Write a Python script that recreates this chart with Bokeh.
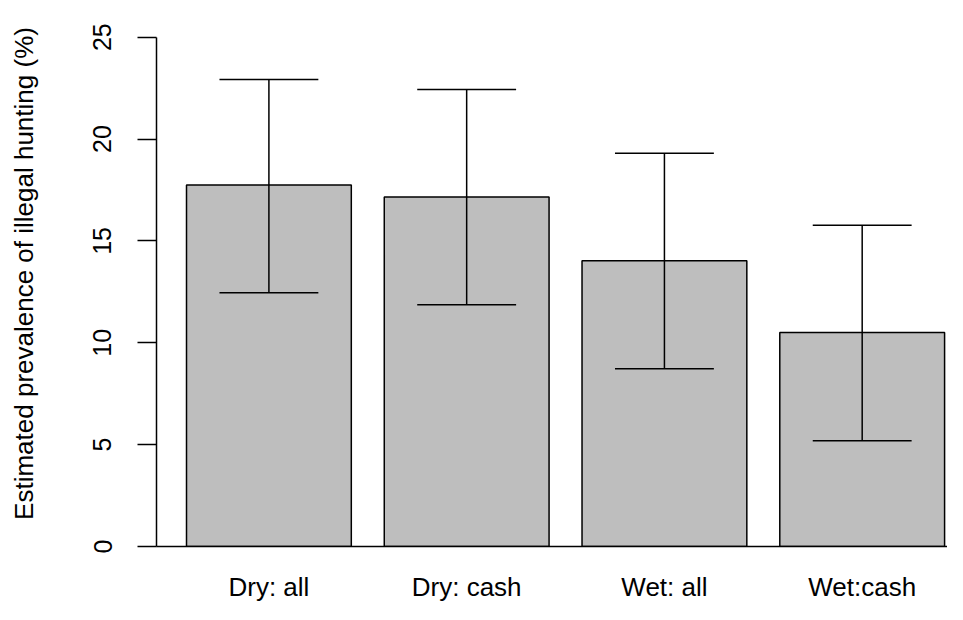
from bokeh.plotting import figure
from bokeh.models import Range1d, FixedTicker
from bokeh.embed import file_html
from bokeh.resources import INLINE

# ---- data ----
categories = ["Dry: all", "Dry: cash", "Wet: all", "Wet:cash"]
prevalence = [17.75, 17.15, 14.03, 10.50]
lower_ci = [12.45, 11.86, 8.73, 5.19]
upper_ci = [22.92, 22.43, 19.30, 15.77]
y_ticks = [0, 5, 10, 15, 20, 25]
y_title = "Estimated prevalence of illegal hunting (%)"

FONT = "Liberation Sans"
positions = [i + 1 for i in range(len(categories))]
bar_width = 1 / 1.2
cap_half = 0.25

p = figure(width=947, height=604,
           x_range=Range1d(0.4316, 4.4314), y_range=Range1d(0, 26.8),
           output_backend="svg", toolbar_location=None,
           min_border_left=156, min_border_right=0,
           min_border_top=0, min_border_bottom=58)
p.outline_line_color = None
p.grid.visible = False
p.background_fill_color = "white"
p.border_fill_color = "white"

p.vbar(x=positions, top=prevalence, bottom=0, width=bar_width,
       fill_color="#BEBEBE", line_color="black", line_width=1.5)
p.segment(x0=positions, y0=lower_ci, x1=positions, y1=upper_ci,
          line_color="black", line_width=1.5)
p.segment(x0=[x - cap_half for x in positions], y0=upper_ci,
          x1=[x + cap_half for x in positions], y1=upper_ci,
          line_color="black", line_width=1.5)
p.segment(x0=[x - cap_half for x in positions], y0=lower_ci,
          x1=[x + cap_half for x in positions], y1=lower_ci,
          line_color="black", line_width=1.5)

# x axis
xa = p.xaxis[0]
xa.ticker = FixedTicker(ticks=positions)
xa.major_label_overrides = {pos: cat for pos, cat in zip(positions, categories)}
xa.major_tick_line_color = None
xa.minor_tick_line_color = None
xa.axis_line_color = "black"
xa.axis_line_width = 1.5
xa.major_label_standoff = 19
xa.major_label_text_font = FONT
xa.major_label_text_font_size = "26px"
xa.major_label_text_color = "black"

# y axis
ya = p.yaxis[0]
ya.bounds = (0, 25)
ya.ticker = FixedTicker(ticks=y_ticks)
ya.minor_tick_line_color = None
ya.major_tick_in = 0
ya.major_tick_out = 19
ya.major_tick_line_color = "black"
ya.major_tick_line_width = 1.5
ya.axis_line_color = "black"
ya.axis_line_width = 1.5
ya.major_label_orientation = "vertical"
ya.major_label_standoff = 26
ya.major_label_text_font = FONT
ya.major_label_text_font_size = "25px"
ya.major_label_text_color = "black"
ya.axis_label = y_title
ya.axis_label_text_font = FONT
ya.axis_label_text_font_size = "26px"
ya.axis_label_text_font_style = "normal"
ya.axis_label_text_color = "black"
ya.axis_label_standoff = 52

open("out.html", "w").write(file_html(p, INLINE))
